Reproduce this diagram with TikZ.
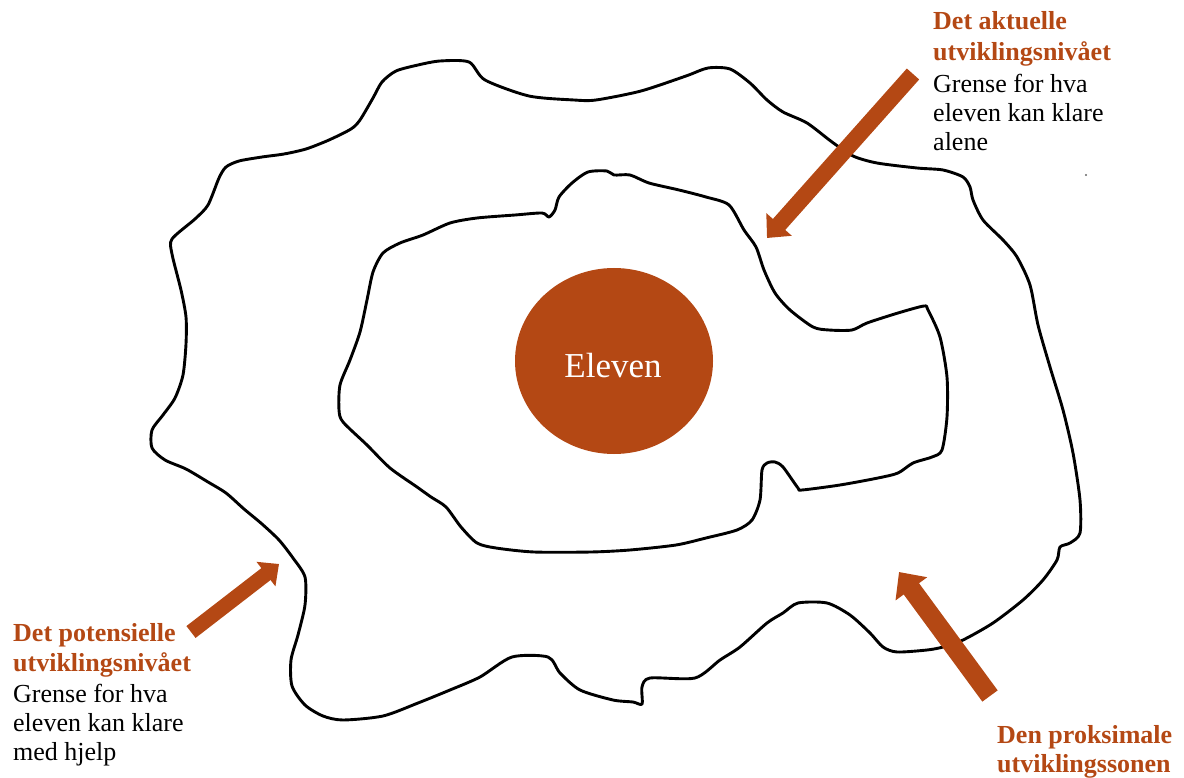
\documentclass[tikz,border=0pt]{standalone}
\usepackage{fontspec}
\setmainfont{Liberation Serif}
\usetikzlibrary{arrows.meta}
\definecolor{rust}{RGB}{180,72,20}

\tikzset{
  contour/.style={draw=black, line width=2.9pt, line join=round},
  heading/.style={anchor=base west, inner sep=0pt, text=rust,
    font=\fontsize{26}{30}\selectfont\bfseries},
  note/.style={anchor=base west, inner sep=0pt,
    font=\fontsize{26}{30}\selectfont},
  bigarrow/.style={draw=rust, line width=#1,
    -{Triangle[width=0pt 2, length=0pt 1.1]}},
}

\begin{document}
\begin{tikzpicture}[x=1pt, y=-1pt]
\useasboundingbox (0,0) rectangle (1184,778);

% outer boundary: what the pupil manages with help
\draw[contour] plot[smooth cycle, tension=0.45] coordinates {
  (832,142) (807,123) (783,112) (767,100) (750,83) (730,69) (708,68)
  (686,76) (641,91) (596,100) (574,100) (529,96) (485,80) (469,62)
  (440,61) (418,65) (396,71) (382,82) (373,98) (360,120) (351,129)
  (329,140) (306,149) (284,154) (262,157) (239,161) (226,167) (219,178)
  (208,205) (195,219) (172,239) (172,254) (181,290) (186,317) (186,344)
  (183,375) (175,398) (163,415) (152,430) (152,448) (165,460) (186,469)
  (208,482) (226,493) (244,509) (262,524) (279,540) (293,558) (305,577)
  (305,605) (298,635) (291,660) (292,686) (305,705) (323,716) (343,720)
  (383,716) (418,703) (450,690) (480,677) (512,657) (548,657) (560,673)
  (580,690) (613,700) (633,702) (642,704) (642,687) (650,678) (695,678)
  (720,660) (740,647) (767,623) (783,613) (798,603) (827,603) (850,615)
  (870,633) (883,647) (897,652) (927,650) (943,647) (963,640) (993,623)
  (1023,600) (1043,580) (1057,560) (1060,547) (1070,543) (1080,533)
  (1080,500) (1073,453) (1063,410) (1050,367) (1038,325) (1030,285)
  (1017,257) (1003,240) (983,220) (973,200) (970,187) (963,177)
  (943,170) (917,168) (877,163) (853,156)
};

% inner boundary: what the pupil manages alone
\draw[contour] plot[smooth cycle, tension=0.45] coordinates {
  (607,171) (614,175) (630,175) (649,183) (679,190) (706,197) (729,205)
  (744,230) (756,247) (764,270) (775,293) (790,310) (813,327) (829,330)
  (852,330) (867,323) (898,313) (924,306) (928,310) (940,337) (947,377)
  (947,417) (942,450) (932,457) (913,463) (898,473) (878,478) (840,485)
  (802,490) (798,488) (783,467) (775,462) (767,463) (762,470) (760,500)
  (752,520) (737,530) (706,538) (676,545) (630,550) (591,552) (534,552)
  (496,548) (477,543) (461,527) (446,507) (431,497) (417,487) (390,468)
  (367,445) (343,422) (339,410) (340,385) (350,360) (360,332) (367,300)
  (373,272) (383,253) (400,243) (423,235) (450,223) (477,218) (515,215)
  (542,213) (549,217) (555,210) (559,197) (572,183) (588,172)
};

% the pupil
\fill[rust] (614,361) ellipse [x radius=99, y radius=93];
\node[anchor=base, inner sep=0pt, text=white,
      font=\fontsize{35}{40}\selectfont] (eleven) at (613,377) {Eleven};

% labels
\node[heading] (akt1) at (933,30) {Det aktuelle};
\node[heading] (akt2) at (933,61) {utviklingsnivået};
\node[note]    (akt3) at (933,93) {Grense for hva};
\node[note]    (akt4) at (933,122) {eleven kan klare};
\node[note]    (akt5) at (933,151) {alene};

\node[heading] (pot1) at (13,641) {Det potensielle};
\node[heading] (pot2) at (13,671) {utviklingsnivået};
\node[note]    (pot3) at (13,702) {Grense for hva};
\node[note]    (pot4) at (13,731) {eleven kan klare};
\node[note]    (pot5) at (13,760) {med hjelp};

\node[heading] (sone1) at (997,743) {Den proksimale};
\node[heading] (sone2) at (997,772) {utviklingssonen};

% arrows
\coordinate (aktTail) at (913,74);
\coordinate (aktTip)  at (767,238);
\coordinate (potTail) at (191,632);
\coordinate (potTip)  at (279,564);
\coordinate (soneTail) at (990,696);
\coordinate (soneTip)  at (899,572);
\draw[bigarrow=16.5pt] (aktTail) -- (aktTip);
\draw[bigarrow=15pt] (potTail) -- (potTip);
\draw[bigarrow=19pt] (soneTail) -- (soneTip);

% stray dot
\fill[black!60] (1086,175) circle (1.2pt);
\end{tikzpicture}
\end{document}
